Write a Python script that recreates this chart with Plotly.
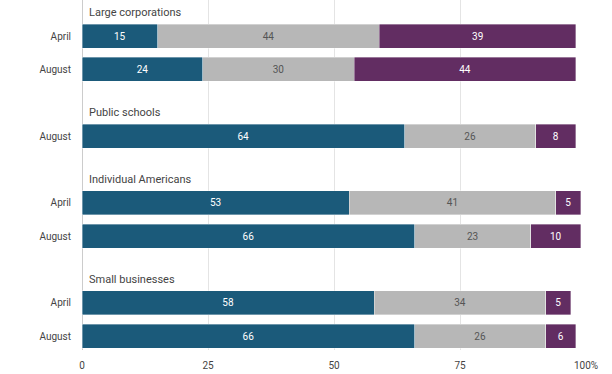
import plotly.graph_objects as go

groups = ["Large corporations", "Public schools", "Individual Americans", "Small businesses"]
group_periods = [["April", "August"], ["August"], ["April", "August"], ["April", "August"]]
blue_vals = [[15, 24], [64], [53, 66], [58, 66]]
gray_vals = [[44, 30], [26], [41, 23], [34, 26]]
purple_vals = [[39, 44], [8], [5, 10], [5, 6]]
x_ticks = [0, 25, 50, 75, 100]
x_tick_labels = ["0", "25", "50", "75", "100%"]

# layout: each row one unit, one blank unit between groups
ypos, ylab, b, g, p, title_pos = [], [], [], [], [], []
cur = 0
for gi, name in enumerate(groups):
    title_pos.append(cur - 0.7)
    for pi, per in enumerate(group_periods[gi]):
        ypos.append(cur)
        ylab.append(per)
        b.append(blue_vals[gi][pi])
        g.append(gray_vals[gi][pi])
        p.append(purple_vals[gi][pi])
        cur += 1
    cur += 1

colors = ["#1b5a7a", "#b7b7b7", "#622d62"]
text_colors = ["#ffffff", "#555555", "#ffffff"]

fig = go.Figure()
for vals, col, tc in zip([b, g, p], colors, text_colors):
    fig.add_trace(go.Bar(
        x=vals, y=ypos, orientation="h", width=0.72,
        marker=dict(color=col, line=dict(color="rgba(255,255,255,0.6)", width=0.6)),
        text=[str(v) for v in vals], textposition="inside", insidetextanchor="middle",
        textangle=0, constraintext="none",
        textfont=dict(family="Roboto", size=10, color=tc),
        hoverinfo="skip", showlegend=False,
    ))

for name, ty in zip(groups, title_pos):
    fig.add_annotation(x=0, y=ty, xref="x", yref="y", text=name, showarrow=False,
                       xanchor="left", yanchor="middle", xshift=5,
                       font=dict(family="Roboto", size=11, color="#444444"))

fig.update_layout(
    width=612, height=374, barmode="stack",
    margin=dict(l=82, r=26, t=0, b=24, autoexpand=False),
    plot_bgcolor="white", paper_bgcolor="white",
    font=dict(family="Roboto", size=10, color="#444444"),
)
fig.update_xaxes(range=[0, 100], tickvals=x_ticks, ticktext=x_tick_labels,
                 showgrid=True, gridcolor="#e4e4e4", gridwidth=1,
                 zeroline=True, zerolinecolor="#cccccc", zerolinewidth=1,
                 showline=False, ticks="outside", ticklen=6, tickcolor="rgba(0,0,0,0)",
                 automargin=False,
                 tickfont=dict(size=10, color="#444444"), fixedrange=True)
fig.update_yaxes(range=[9.42, -1.08], tickvals=ypos, ticktext=ylab,
                 showgrid=False, zeroline=False, showline=False,
                 ticklabelstandoff=10, automargin=False,
                 tickfont=dict(size=10, color="#444444"), fixedrange=True)

fig.write_html("out.html", config={"displayModeBar": False},
               post_script="document.body.style.margin='0';document.body.style.overflow='hidden';")
